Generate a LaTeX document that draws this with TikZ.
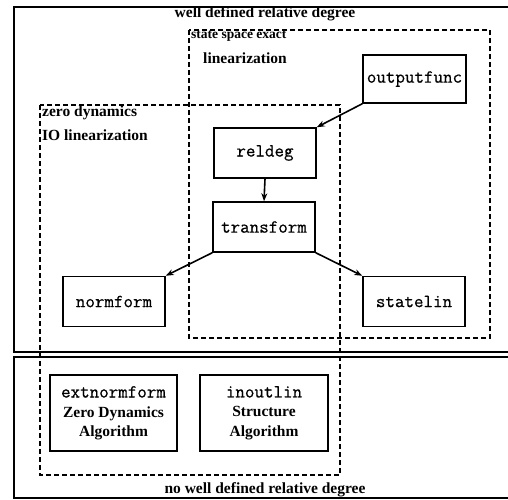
\documentclass[tikz,border=0pt]{standalone}
\usepackage{fontspec}
\setmainfont{Liberation Serif}
\newfontfamily\monofont{Latin Modern Mono}[FakeBold=0.6]
\usetikzlibrary{arrows.meta}
\begin{document}
\begin{tikzpicture}[x=1pt,y=-1pt,
  frame/.style={line width=1.5pt},
  group/.style={line width=1.3pt,dash pattern=on 5pt off 3pt},
  prog/.style={draw,line width=1.5pt,minimum width=102pt,minimum height=50pt,inner sep=0pt,
    font=\monofont\fontsize{18.5}{20}\selectfont},
  algo/.style={draw,line width=1.5pt,minimum width=127pt,minimum height=76pt,inner sep=0pt,
    align=center,font=\fontsize{15.5}{19.5}\selectfont\bfseries},
  lbl/.style={inner sep=0pt,font=\fontsize{15.5}{18}\selectfont\bfseries},
  arr/.style={line width=1.6pt,-{Stealth[length=8pt,width=6pt]}}]
\useasboundingbox (0,0) rectangle (508,499);
\clip (0,0) rectangle (508,499);
% outer frames
\draw[frame] (520,7) -- (14,7) -- (14,352) -- (520,352);
\draw[frame] (520,357) -- (14,357) -- (14,498) -- (520,498);
% dashed groups
\draw[group] (189,30) rectangle (490,338);
\draw[group] (40,105) rectangle (340,475);
% labels
\node[lbl] (wd) at (265,14) {well defined relative degree};
\node[lbl,anchor=west,font=\fontsize{13.5}{15}\selectfont\bfseries] (sse) at (191,36) {state space exact};
\node[lbl,anchor=west] (lin) at (203,58) {linearization};
\node[lbl,anchor=west] (zd) at (42,113) {zero dynamics};
\node[lbl,anchor=west] (io) at (42,135) {IO linearization};
\node[lbl] (nwd) at (265,490) {no well defined relative degree};
% program nodes
\node[prog,minimum width=103pt,minimum height=48pt] (of) at (414.5,79) {outputfunc};
\node[prog] (rd) at (265,153) {reldeg};
\node[prog] (tf) at (264,227) {transform};
\node[prog] (nf) at (114,301.5) {normform};
\node[prog] (sl) at (414,301.5) {statelin};
\node[algo] (enf) at (113.5,413) {{\monofont\mdseries\fontsize{18.5}{19.5}\selectfont extnormform}\\Zero Dynamics\\Algorithm};
\node[algo,minimum width=128pt] (iol) at (264,413) {{\monofont\mdseries\fontsize{18.5}{19.5}\selectfont inoutlin}\\Structure\\Algorithm};
% connectors
\draw[arr] (of.south west) -- (rd.north east);
\draw[arr] (rd.south) -- (tf.north);
\draw[arr] (tf.south west) -- (nf.north east);
\draw[arr] (tf.south east) -- (sl.north west);
\end{tikzpicture}
\end{document}
